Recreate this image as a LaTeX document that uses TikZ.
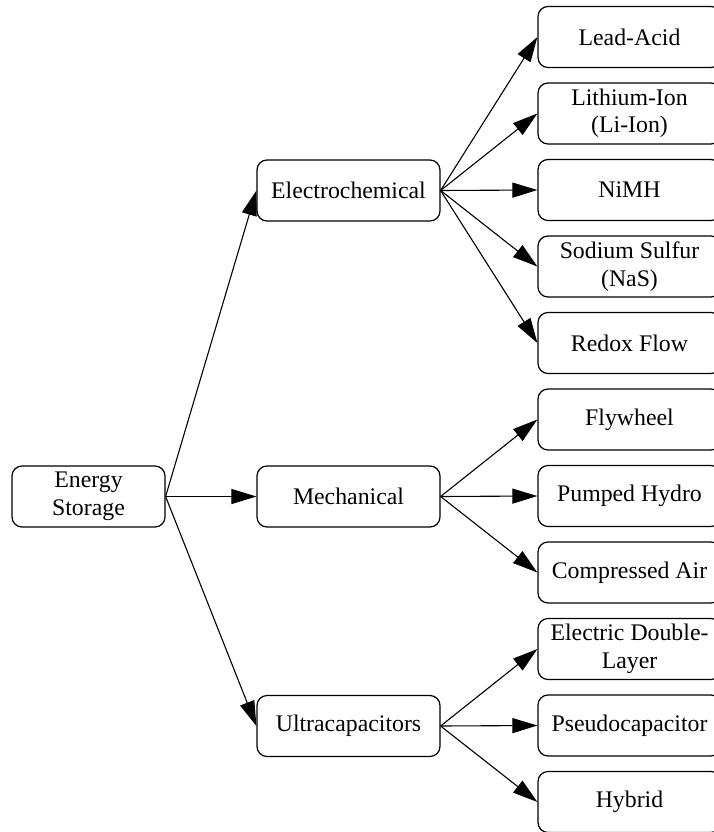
\documentclass[tikz,border=0pt]{standalone}
\usepackage{fontspec}
\setmainfont{Liberation Serif}
\usetikzlibrary{arrows.meta}
\begin{document}
\begin{tikzpicture}[x=1pt,y=-1pt,
  box/.style={draw, line width=1.2pt, rounded corners=10pt, fill=white,
    minimum width=183pt, minimum height=61pt, inner sep=0pt, align=center,
    font=\fontsize{23.8pt}{27.5pt}\selectfont},
  rootbox/.style={box, minimum width=153pt},
  link/.style={line width=1.1pt, -{Triangle[length=25pt,width=15pt]}}]
\useasboundingbox (0,0) rectangle (714,832);

% root and categories
\node[rootbox] (es) at (88.5,496.5) {Energy\\Storage};
\node[box] (ec) at (348.5,190.5) {Electrochemical};
\node[box] (me) at (348.5,496.5) {Mechanical};
\node[box] (uc) at (348.5,726) {Ultracapacitors};

% technologies
\node[box] (la) at (629.5,37)    {Lead-Acid};
\node[box] (li) at (629.5,113.5) {Lithium-Ion\\(Li-Ion)};
\node[box] (ni) at (629.5,190)   {NiMH};
\node[box] (na) at (629.5,266.5) {Sodium Sulfur\\(NaS)};
\node[box] (rf) at (629.5,343)   {Redox Flow};
\node[box] (fw) at (629.5,419.5) {Flywheel};
\node[box] (ph) at (629.5,496)   {Pumped Hydro};
\node[box] (ca) at (629.5,572.5) {Compressed Air};
\node[box] (ed) at (629.5,649)   {Electric Double-\\Layer};
\node[box] (pc) at (629.5,725.5) {Pseudocapacitor};
\node[box] (hy) at (629.5,802)   {Hybrid};

% connectors
\foreach \t in {ec,me,uc} \draw[link] (es.east) -- (\t.west);
\foreach \t in {la,li,ni,na,rf} \draw[link] (ec.east) -- (\t.west);
\foreach \t in {fw,ph,ca} \draw[link] (me.east) -- (\t.west);
\foreach \t in {ed,pc,hy} \draw[link] (uc.east) -- (\t.west);
\end{tikzpicture}
\end{document}
